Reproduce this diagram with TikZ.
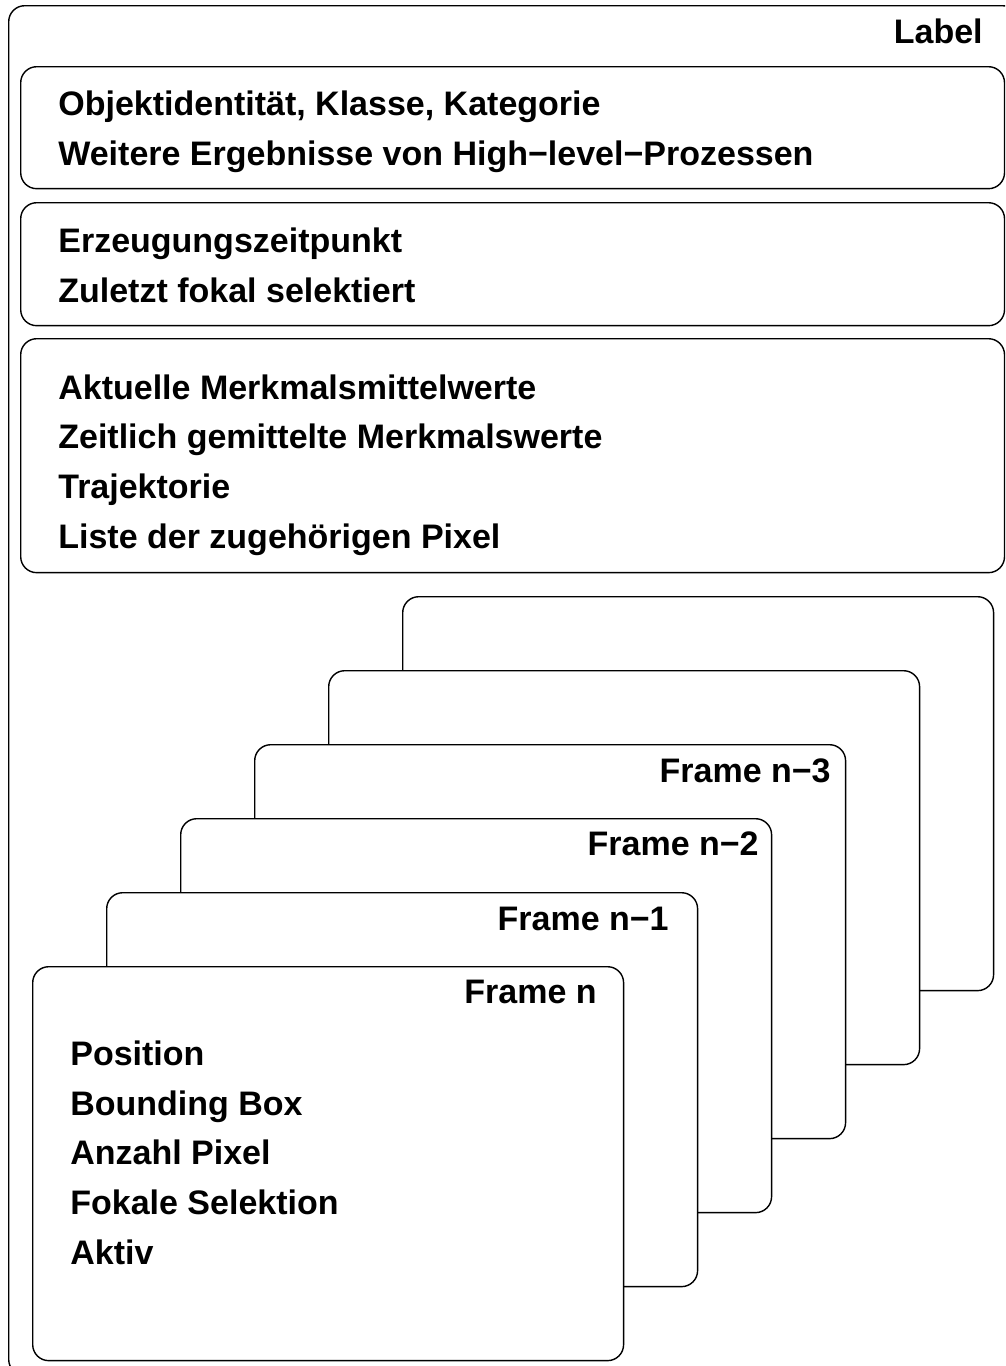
\documentclass[tikz,border=0pt]{standalone}
\usepackage{fontspec}
\setmainfont{Liberation Sans}
\usetikzlibrary{positioning}

\begin{document}
\begin{tikzpicture}[x=0.02cm,y=-0.02cm,%
	outer box/.style={
		rectangle,
		rounded corners=0.32cm,
		draw,
		line width=0.8pt,
		minimum width=20.2cm,
		minimum height=27.4cm,
		inner sep=0pt,
		anchor=north west
	},
	info box/.style={
		rectangle,
		rounded corners=0.32cm,
		draw,
		line width=0.8pt,
		minimum width=19.68cm,
		inner sep=0pt,
		anchor=north west
	},
	frame card/.style={
		rectangle,
		rounded corners=0.32cm,
		draw,
		fill=white,
		line width=0.8pt,
		minimum width=11.82cm,
		minimum height=7.88cm,
		inner sep=0pt,
		anchor=north west
	},
	% anchored at the baseline of the last line
	entry list/.style={
		font=\fontsize{19.35}{28.2}\selectfont\bfseries,
		inner sep=0pt,
		align=left,
		anchor=base west
	},
	card title/.style={
		font=\fontsize{19.35}{28.2}\selectfont\bfseries,
		inner sep=0pt,
		anchor=base east
	},
]
	\useasboundingbox (0,0) rectangle (1005,1366);
	\clip (0,0) rectangle (1005,1366);

	% object record
	\node[outer box] (label) at (8,5) {};
	\node[card title] (labeltitle) at (983,43) {Label};

	\node[info box, minimum height=2.44cm] (high) at (20,66) {};
	\node[info box, minimum height=2.46cm] (time) at (20,202) {};
	\node[info box, minimum height=4.68cm] (feat) at (20,338) {};

	\node[entry list] (hightext) at (58,165) {Objektidentität, Klasse, Kategorie\\Weitere Ergebnisse von High−level−Prozessen};
	\node[entry list] (timetext) at (58,302) {Erzeugungszeitpunkt\\Zuletzt fokal selektiert};
	\node[entry list] (feattext) at (58,548) {Aktuelle Merkmalsmittelwerte\\Zeitlich gemittelte Merkmalswerte\\Trajektorie\\Liste der zugehörigen Pixel};

	% frame history, back to front
	\node[frame card] (f4) at (402,596) {};
	\node[frame card] (f3) at (328,670) {};
	\node[frame card] (f2) at (254,744) {};
	\node[frame card] (f1) at (180,818) {};
	\node[frame card] (f0) at (106,892) {};
	\node[frame card] (fn) at (32,966) {};

	\node[card title] (t2) at (831,782) {Frame n−3};
	\node[card title] (t1) at (759,855) {Frame n−2};
	\node[card title] (t0) at (669,930) {Frame n−1};
	\node[card title] (tn) at (597,1003) {Frame n};

	\node[entry list] (fntext) at (70,1264) {Position\\Bounding Box\\Anzahl Pixel\\Fokale Selektion\\Aktiv};
\end{tikzpicture}
\end{document}
